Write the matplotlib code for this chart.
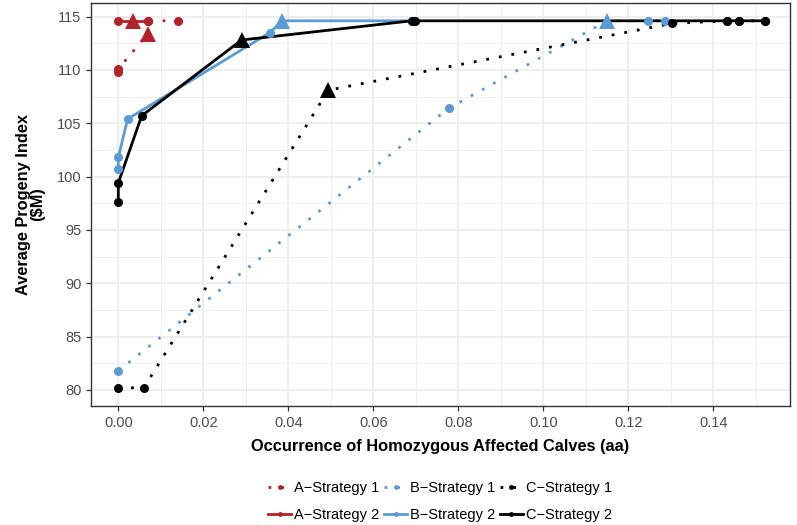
import matplotlib
matplotlib.use("Agg")
import matplotlib.pyplot as plt
from matplotlib.lines import Line2D
from matplotlib.ticker import MultipleLocator, FormatStrFormatter

plt.rcParams['font.family'] = ['Liberation Sans', 'DejaVu Sans']

# ---------------- data ----------------
a1_x = [0.0, 0.0, 0.007, 0.007, 0.014]
a1_y = [109.8, 110.1, 113.4, 114.6, 114.6]
a1_tri = 2

a2_x = [0.0, 0.0035, 0.007]
a2_y = [114.6, 114.6, 114.6]
a2_tri = 1

b1_x = [0.0, 0.0777, 0.115, 0.1245, 0.1287]
b1_y = [81.8, 106.4, 114.6, 114.6, 114.6]
b1_tri = 2

b2_x = [0.0, 0.0, 0.0022, 0.0357, 0.0385, 0.069]
b2_y = [100.7, 101.8, 105.4, 113.5, 114.6, 114.6]
b2_tri = 4

c1_x = [0.0, 0.006, 0.0494, 0.1302, 0.1432, 0.1461, 0.1522]
c1_y = [80.2, 80.2, 108.1, 114.35, 114.6, 114.6, 114.6]
c1_tri = 2

c2_x = [0.0, 0.0, 0.0055, 0.029, 0.069, 0.0699, 0.1432, 0.1461, 0.1522]
c2_y = [97.6, 99.4, 105.7, 112.8, 114.6, 114.6, 114.6, 114.6, 114.6]
c2_tri = 3

labels = ["A\u2212Strategy 1", "A\u2212Strategy 2",
          "B\u2212Strategy 1", "B\u2212Strategy 2",
          "C\u2212Strategy 1", "C\u2212Strategy 2"]
x_ticks = [0.00, 0.02, 0.04, 0.06, 0.08, 0.10, 0.12, 0.14]
y_ticks = [80, 85, 90, 95, 100, 105, 110, 115]

RED = "#B22228"
BLUE = "#5B9BD5"
BLACK = "#000000"
DOT = (0, (1, 3.6))

series = [
    (a1_x, a1_y, a1_tri, RED, DOT),
    (a2_x, a2_y, a2_tri, RED, "-"),
    (b1_x, b1_y, b1_tri, BLUE, DOT),
    (b2_x, b2_y, b2_tri, BLUE, "-"),
    (c1_x, c1_y, c1_tri, BLACK, DOT),
    (c2_x, c2_y, c2_tri, BLACK, "-"),
]

fig = plt.figure(figsize=(7.97, 5.25), dpi=100)
ax = fig.add_axes([91/797, (525-406)/525, (790-91)/797, (406-3)/525])

for xs, ys, tri, col, ls in series:
    lw = 2.0
    ax.plot(xs, ys, color=col, linestyle=ls, linewidth=lw, zorder=3)
    cx = [x for i, x in enumerate(xs) if i != tri]
    cy = [y for i, y in enumerate(ys) if i != tri]
    ax.plot(cx, cy, linestyle="none", marker="o", markersize=6.5,
            color=col, markeredgewidth=0, zorder=4)
    ax.plot([xs[tri]], [ys[tri]], linestyle="none", marker="^",
            markersize=11, color=col, markeredgewidth=0, zorder=5)

ax.set_xlim(-0.00642, 0.158)
ax.set_ylim(78.5, 116.27)
ax.set_xticks(x_ticks)
ax.set_yticks(y_ticks)
ax.xaxis.set_major_formatter(FormatStrFormatter("%.2f"))
ax.xaxis.set_minor_locator(MultipleLocator(0.01))
ax.yaxis.set_minor_locator(MultipleLocator(2.5))
ax.set_facecolor("white")
ax.grid(True, which="major", color="#EBEBEB", linewidth=1.2, zorder=0)
ax.grid(True, which="minor", color="#EFEFEF", linewidth=0.7, zorder=0)
ax.set_axisbelow(True)
for s in ax.spines.values():
    s.set_color("#333333")
    s.set_linewidth(1.0)
ax.tick_params(which="major", length=3.5, width=0.9, color="#333333",
               labelcolor="#4D4D4D", labelsize=10.5)
ax.tick_params(which="minor", length=0)

ax.set_xlabel("Occurrence of Homozygous Affected Calves (aa)",
              fontsize=11.8, fontweight="bold", labelpad=7)
ax.set_ylabel("Average Progeny Index\n($M)", fontsize=11.8,
              fontweight="bold", labelpad=8, linespacing=1.0)

handles = []
for xs, ys, tri, col, ls in series:
    handles.append(Line2D([0], [0], color=col, linestyle=ls, linewidth=2.0,
                          marker="o", markersize=3.5, markeredgewidth=0))
fig.legend(handles, labels, loc="lower center", ncol=3,
           bbox_to_anchor=(440/797, -0.005), frameon=False, fontsize=10.5,
           handlelength=1.6, handletextpad=0.2, columnspacing=0.3,
           labelspacing=0.9, borderaxespad=0.0)

fig.savefig("out.png", dpi=100)
